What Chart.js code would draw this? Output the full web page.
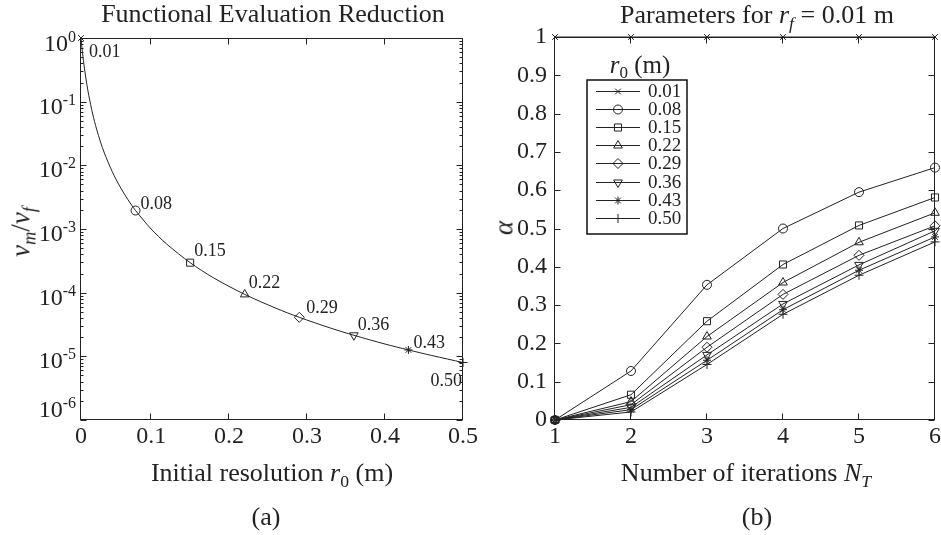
<!DOCTYPE html>
<html>
<head>
<meta charset="utf-8">
<script src="https://cdn.jsdelivr.net/npm/chart.js@4.4.0/dist/chart.umd.min.js"></script>
<style>
  body { margin: 0; background: #fff; width: 941px; height: 535px; position: relative; overflow: hidden;
         font-family: 'Liberation Serif', serif; color: #222; }
  canvas { position: absolute; top: 0; }
  #left { left: 0; }
  #right { left: 440px; }
  .lbl { position: absolute; white-space: nowrap; font-size: 26px; line-height: 1.15;
         transform: translate(-50%, -50%); }
  .rot { transform: translate(-50%, -50%) rotate(-90deg); }
  sub { font-size: 68%; vertical-align: -0.32em; line-height: 0; }
</style>
</head>
<body>
<canvas id="left" width="500" height="535"></canvas>
<canvas id="right" width="501" height="535"></canvas>

<div class="lbl" style="left:273px; top:14px">Functional Evaluation Reduction</div>
<div class="lbl rot" style="left:21px; top:232px; font-size:27px"><i>ν<sub>m</sub></i>/<i>ν<sub>f</sub></i></div>
<div class="lbl" style="left:272px; top:473px">Initial resolution <i>r</i><sub>0</sub> (m)</div>
<div class="lbl" style="left:266px; top:517px">(a)</div>

<div class="lbl" style="left:757px; top:15px">Parameters for <i>r<sub>f</sub></i> = 0.01 m</div>
<div class="lbl rot" style="left:504px; top:228px; font-size:27px"><i>α</i></div>
<div class="lbl" style="left:746px; top:473px">Number of iterations <i>N<sub>T</sub></i></div>
<div class="lbl" style="left:757px; top:517px">(b)</div>

<script>
// ---- (a) evaluation ratio vs initial resolution ----
const r0Values = [0.01, 0.08, 0.15, 0.22, 0.29, 0.36, 0.43, 0.50];
const evalRatio = [1, 1.95e-3, 2.96e-4, 9.4e-5, 4.1e-5, 2.14e-5, 1.26e-5, 8.0e-6];
// dense samples along the curve
const curveR0 = [0.01, 0.011, 0.0125, 0.015, 0.0175, 0.02, 0.025, 0.03, 0.035, 0.04, 0.05, 0.06, 0.07,
                 0.08, 0.10, 0.12, 0.15, 0.18, 0.22, 0.26, 0.29, 0.33, 0.36, 0.40, 0.43, 0.46, 0.50];
const curveRatio = [1, 0.751, 0.512, 0.296, 0.187, 0.125, 0.064, 0.037, 0.0233, 0.0156, 0.008, 0.00463, 0.00292,
                    0.00195, 0.001, 0.000579, 0.000296, 0.000171, 9.4e-5, 5.7e-5, 4.1e-5, 2.78e-5, 2.14e-5,
                    1.56e-5, 1.26e-5, 1.03e-5, 8.0e-6];
const xTicksA = [0.01, 0.1, 0.2, 0.3, 0.4, 0.5];

// ---- (b) alpha vs number of iterations ----
const iterations = [1, 2, 3, 4, 5, 6];
const seriesNames = ['0.01', '0.08', '0.15', '0.22', '0.29', '0.36', '0.43', '0.50'];
const alpha001 = [1, 1, 1, 1, 1, 1];
const alpha008 = [0, 0.128, 0.353, 0.500, 0.595, 0.659];
const alpha015 = [0, 0.066, 0.258, 0.406, 0.508, 0.581];
const alpha022 = [0, 0.048, 0.218, 0.359, 0.464, 0.541];
const alpha029 = [0, 0.040, 0.190, 0.328, 0.430, 0.507];
const alpha036 = [0, 0.033, 0.170, 0.303, 0.405, 0.494];
const alpha043 = [0, 0.027, 0.156, 0.288, 0.391, 0.478];
const alpha050 = [0, 0.021, 0.145, 0.276, 0.378, 0.465];
const alphaSeries = [alpha001, alpha008, alpha015, alpha022, alpha029, alpha036, alpha043, alpha050];

// marker look, shared by both panels
const markerStyles = ['crossRot', 'circle', 'rect', 'triangle', 'rectRot', 'triangle', 'star', 'cross'];
const markerRotation = [0, 0, 0, 0, 0, 180, 0, 0];
const markerRadius = [4, 4.5, 5, 5, 5, 5, 4, 4.5];

const INK = '#222';
const FONT = "'Liberation Serif', serif";

// box with inward tick marks, matlab style
const framePlugin = {
  id: 'frame',
  beforeDatasetsDraw(chart, args, opts) {
    const { ctx, chartArea: a, scales: { x, y } } = chart;
    const L = Math.round(a.left) - 0.5, R = Math.round(a.right) - 0.5;
    const T = Math.round(a.top) + 0.5, B = Math.round(a.bottom) - 0.5;
    ctx.save();
    ctx.strokeStyle = INK;
    ctx.lineWidth = 1;
    ctx.strokeRect(L, T, R - L, B - T);
    ctx.beginPath();
    x.ticks.forEach(t => {
      const px = Math.round(x.getPixelForValue(t.value)) - 0.5;
      ctx.moveTo(px, B); ctx.lineTo(px, B - 6);
      ctx.moveTo(px, T); ctx.lineTo(px, T + 6);
    });
    y.ticks.forEach(t => {
      const py = Math.round(y.getPixelForValue(t.value)) + 0.5;
      ctx.moveTo(L, py); ctx.lineTo(L + 6, py);
      ctx.moveTo(R, py); ctx.lineTo(R - 6, py);
    });
    if (opts.logMinor) {
      for (let e = -6; e < 0; e++) {
        for (let k = 2; k <= 9; k++) {
          const py = Math.round(y.getPixelForValue(k * Math.pow(10, e))) + 0.5;
          ctx.moveTo(L, py); ctx.lineTo(L + 3, py);
          ctx.moveTo(R, py); ctx.lineTo(R - 3, py);
        }
      }
    }
    ctx.stroke();
    ctx.restore();
  }
};

// 10^n labels for the log axis
const powerLabels = {
  id: 'powerLabels',
  afterDraw(chart) {
    const { ctx, scales: { y } } = chart;
    const n = y.ticks.length;
    ctx.save();
    ctx.fillStyle = INK;
    ctx.textAlign = 'right';
    ctx.textBaseline = 'alphabetic';
    y.ticks.forEach((t, i) => {
      let py = y.getPixelForValue(t.value);
      if (i === 0) py -= 15;          // keep the bottom label inside
      if (i === n - 1) py += 1;
      const exp = String(Math.round(Math.log10(t.value)));
      ctx.font = '16px ' + FONT;
      const ew = ctx.measureText(exp).width;
      ctx.fillText(exp, 76, py + 3);
      ctx.font = '24px ' + FONT;
      ctx.fillText('10', 76 - ew, py + 12);
    });
    ctx.restore();
  }
};

// r0 value next to each marker
const labelOffsets = [[8, 19, 'left'], [5, -2, 'left'], [4, -7, 'left'], [4, -6, 'left'],
                      [7, -4, 'left'], [4, -5, 'left'], [5, -2, 'left'], [-1, 23, 'right']];
const markerLabels = {
  id: 'markerLabels',
  afterDatasetsDraw(chart) {
    const { ctx } = chart;
    const pts = chart.getDatasetMeta(1).data;
    ctx.save();
    ctx.fillStyle = INK;
    ctx.font = '18px ' + FONT;
    ctx.textBaseline = 'alphabetic';
    pts.forEach((p, i) => {
      const [dx, dy, align] = labelOffsets[i];
      ctx.textAlign = align;
      ctx.fillText(r0Values[i].toFixed(2), p.x + dx, p.y + dy);
    });
    ctx.restore();
  }
};

// boxed key with line + marker samples and a title above it
const seriesKey = {
  id: 'seriesKey',
  afterDraw(chart) {
    const { ctx, chartArea: a } = chart;
    const left = Math.round(a.left) + 32, top = Math.round(a.top) + 43;
    const w = 100, h = 154, rowH = 18.2;
    ctx.save();
    ctx.fillStyle = '#fff';
    ctx.fillRect(left, top, w, h);
    ctx.strokeStyle = '#111';
    ctx.lineWidth = 1.5;
    ctx.strokeRect(left, top, w, h);

    // title: r0 (m)
    ctx.fillStyle = INK;
    ctx.textBaseline = 'alphabetic';
    ctx.textAlign = 'left';
    const parts = [['italic 25px ' + FONT, 'r', 0], ['17px ' + FONT, '0', 5], ['25px ' + FONT, ' (m)', 0]];
    let total = 0;
    parts.forEach(p => { ctx.font = p[0]; total += ctx.measureText(p[1]).width; });
    let tx = left + 53 - total / 2;
    parts.forEach(p => { ctx.font = p[0]; ctx.fillText(p[1], tx, top - 7 + p[2]); tx += ctx.measureText(p[1]).width; });

    ctx.lineWidth = 1;
    ctx.strokeStyle = INK;
    ctx.font = '19px ' + FONT;
    ctx.textBaseline = 'middle';
    chart.data.datasets.forEach((ds, i) => {
      const cy = Math.round(top + 10.5 + i * rowH) + 0.5;
      ctx.beginPath();
      ctx.moveTo(left + 9, cy);
      ctx.lineTo(left + 53, cy);
      ctx.stroke();
      ctx.fillStyle = 'rgba(0,0,0,0)';
      Chart.helpers.drawPoint(ctx, {
        pointStyle: ds.pointStyle, rotation: ds.pointRotation, radius: ds.pointRadius, borderWidth: 1
      }, left + 31, cy);
      ctx.fillStyle = INK;
      ctx.fillText(ds.label, left + 61, cy + 1);
    });
    ctx.restore();
  }
};

Chart.defaults.font.family = FONT;
Chart.defaults.color = INK;

// ---- chart (a) ----
new Chart(document.getElementById('left'), {
  type: 'line',
  data: {
    datasets: [{
      label: 'curve',
      data: curveR0.map((r, i) => ({ x: r, y: curveRatio[i] })),
      borderColor: INK,
      borderWidth: 1,
      pointRadius: 0,
      tension: 0.3,
      clip: false
    }, {
      label: 'r0',
      data: r0Values.map((r, i) => ({ x: r, y: evalRatio[i] })),
      showLine: false,
      pointStyle: markerStyles,
      pointRotation: markerRotation,
      pointRadius: markerRadius,
      pointBorderColor: INK,
      pointBorderWidth: 1,
      pointBackgroundColor: 'rgba(0,0,0,0)',
      clip: false
    }]
  },
  options: {
    responsive: false,
    animation: false,
    devicePixelRatio: 1,
    layout: { padding: { top: 38, right: 37, left: 0, bottom: 0 } },
    plugins: { legend: { display: false }, tooltip: { enabled: false }, frame: { logMinor: true } },
    scales: {
      x: {
        type: 'linear',
        min: 0.01, max: 0.5,
        grid: { display: false, drawTicks: false },
        border: { display: false },
        afterBuildTicks: s => { s.ticks = xTicksA.map(v => ({ value: v })); },
        afterFit: s => { s.height = 115; s.paddingLeft = 0; s.paddingRight = 0; },
        ticks: {
          padding: 2,
          font: { size: 24 },
          maxRotation: 0,
          callback: v => (v === 0.01 ? '0' : String(v))
        }
      },
      y: {
        type: 'logarithmic',
        min: 1e-6, max: 1,
        grid: { display: false, drawTicks: false },
        border: { display: false },
        afterBuildTicks: s => { s.ticks = [1e-6, 1e-5, 1e-4, 1e-3, 1e-2, 1e-1, 1].map(v => ({ value: v })); },
        afterFit: s => { s.width = 81; s.paddingTop = 0; s.paddingBottom = 0; },
        ticks: { display: false }
      }
    }
  },
  plugins: [framePlugin, powerLabels, markerLabels]
});

// ---- chart (b) ----
new Chart(document.getElementById('right'), {
  type: 'line',
  data: {
    datasets: alphaSeries.map((vals, i) => ({
      label: seriesNames[i],
      data: iterations.map((n, j) => ({ x: n, y: vals[j] })),
      borderColor: INK,
      borderWidth: 1,
      pointStyle: markerStyles[i],
      pointRotation: markerRotation[i],
      pointRadius: markerRadius[i],
      pointBorderColor: INK,
      pointBorderWidth: 1,
      pointBackgroundColor: 'rgba(0,0,0,0)',
      clip: false
    }))
  },
  options: {
    responsive: false,
    animation: false,
    devicePixelRatio: 1,
    layout: { padding: { top: 37, right: 3, left: 0, bottom: 0 } },
    plugins: { legend: { display: false }, tooltip: { enabled: false } },
    scales: {
      x: {
        type: 'linear',
        min: 1, max: 6,
        grid: { display: false, drawTicks: false },
        border: { display: false },
        afterFit: s => { s.height = 115; s.paddingLeft = 0; s.paddingRight = 0; },
        ticks: { stepSize: 1, padding: 2, font: { size: 24 }, maxRotation: 0 }
      },
      y: {
        type: 'linear',
        min: 0, max: 1,
        grid: { display: false, drawTicks: false },
        border: { display: false },
        afterFit: s => { s.width = 115; s.paddingTop = 0; s.paddingBottom = 0; },
        ticks: {
          stepSize: 0.1,
          padding: 8,
          font: { size: 24 },
          callback: v => String(Math.round(v * 10) / 10)
        }
      }
    }
  },
  plugins: [framePlugin, seriesKey]
});
</script>
</body>
</html>
